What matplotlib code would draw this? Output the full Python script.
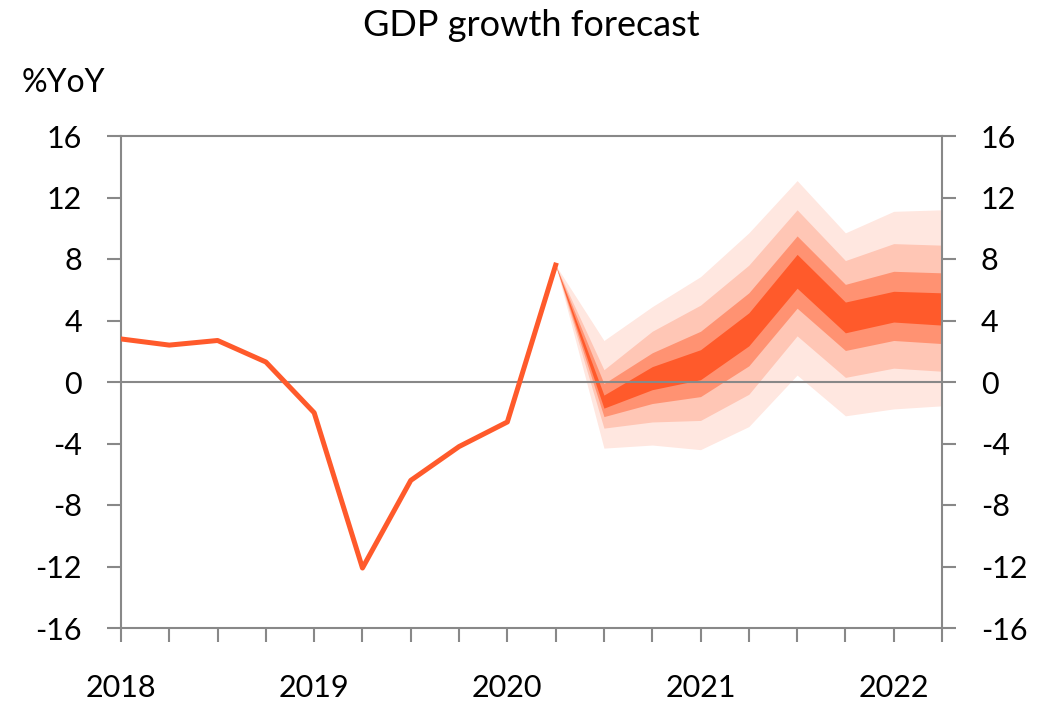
import matplotlib
matplotlib.use("Agg")
import matplotlib.pyplot as plt

plt.rcParams['font.family'] = ['Lato', 'DejaVu Sans']
plt.rcParams['axes.unicode_minus'] = False

# historical GDP growth (%YoY), one point per quarter
hist = [2.8, 2.4, 2.7, 1.3, -2.0, -12.1, -6.4, -4.2, -2.6, 7.6]
# fan chart bands for the forecast quarters (first point = last actual)
outer_hi = [7.6, 2.7, 4.9, 6.85, 9.7, 13.1, 9.7, 11.1, 11.2]
mid_hi   = [7.6, 0.8, 3.3, 5.0, 7.6, 11.2, 7.9, 9.0, 8.9]
in_hi    = [7.6, -0.1, 1.9, 3.3, 5.8, 9.5, 6.35, 7.2, 7.1]
core_hi  = [7.6, -0.85, 1.0, 2.1, 4.5, 8.3, 5.2, 5.9, 5.8]
core_lo  = [7.6, -1.7, -0.5, 0.15, 2.35, 6.1, 3.2, 3.9, 3.7]
in_lo    = [7.6, -2.25, -1.4, -0.95, 1.05, 4.8, 2.05, 2.7, 2.5]
mid_lo   = [7.6, -3.0, -2.6, -2.5, -0.8, 3.0, 0.3, 0.9, 0.7]
outer_lo = [7.6, -4.3, -4.1, -4.4, -2.9, 0.45, -2.2, -1.75, -1.55]
year_labels = ['2018', '2019', '2020', '2021', '2022']

line_col = '#FF5A2B'
band_cols = ['#FFE7E0', '#FFC6B5', '#FF9272', line_col]
axis_col = '#888888'

fig = plt.figure(figsize=(10.49, 7.02), dpi=100)
ax = fig.add_axes([121/1049, 1-628/702, (942-121)/1049, (628-136)/702])

xf = list(range(len(hist)-1, len(hist)-1+len(outer_hi)))
bands = [(outer_lo, outer_hi), (mid_lo, mid_hi), (in_lo, in_hi), (core_lo, core_hi)]
for (lo, hi), c in zip(bands, band_cols):
    ax.fill_between(xf, lo, hi, color=c, linewidth=0, zorder=2)

ax.axhline(0, color=axis_col, lw=1.5, zorder=3)
ax.plot(range(len(hist)), hist, color=line_col, lw=3.6, zorder=4)

ax.set_xlim(0, 17)
ax.set_ylim(-16, 16)
ax.set_yticks(range(-16, 17, 4))
ax.set_xticks(range(0, 18))
ax.set_xticklabels([year_labels[i // 4] if i % 4 == 0 else '' for i in range(18)])

for s in ax.spines.values():
    s.set_color(axis_col)
    s.set_linewidth(1.5)

ax.tick_params(axis='y', which='both', direction='out', length=10, width=1.5,
               color=axis_col, labelsize=22, pad=18, left=True, right=True,
               labelleft=True, labelright=True)
ax.tick_params(axis='x', direction='out', length=10, width=1.5, color=axis_col,
               labelsize=22, pad=23)

fig.text(531/1049, 1-25/702, 'GDP growth forecast', ha='center', va='center', fontsize=26)
fig.text(22/1049, 1-83/702, '%YoY', ha='left', va='center', fontsize=23)

fig.savefig('out.png', dpi=100)
